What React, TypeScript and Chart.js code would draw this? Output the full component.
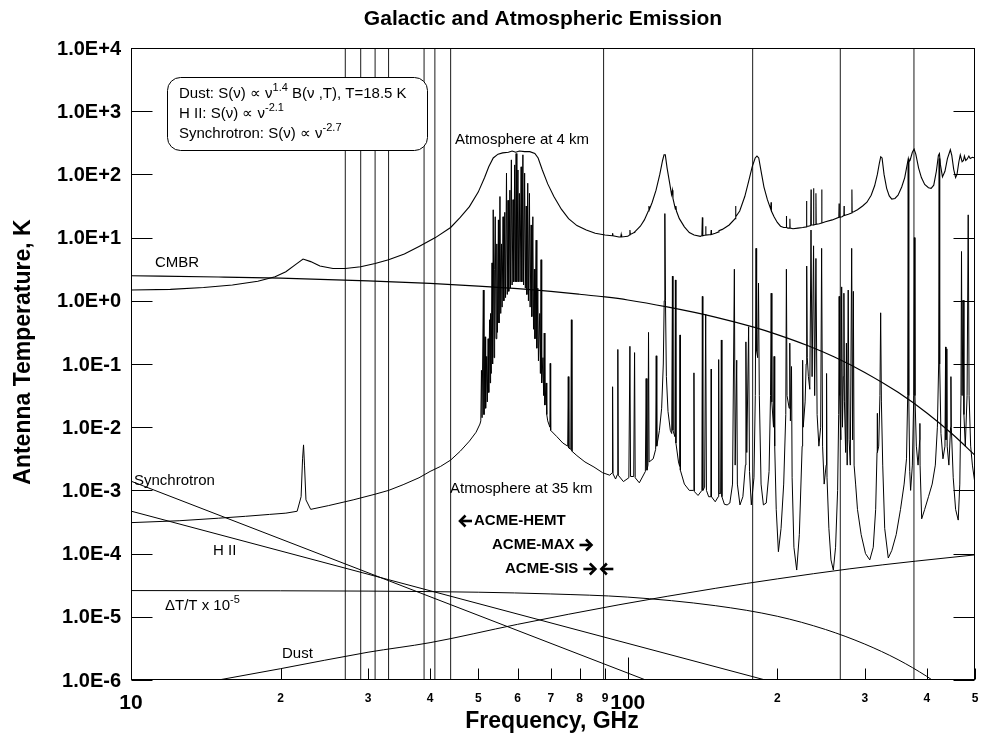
import React, { useEffect, useRef } from 'react';
import { Chart, registerables } from 'chart.js';
Chart.register(...registerables);

// ---------- axis ticks ----------
const X_TICKS = [10, 20, 30, 40, 50, 60, 70, 80, 90, 100, 200, 300, 400, 500];
const X_TICK_LABELS = ['10', '2', '3', '4', '5', '6', '7', '8', '9', '100', '2', '3', '4', '5'];
const Y_TICKS = [1e-6, 1e-5, 1e-4, 1e-3, 1e-2, 1e-1, 1e0, 1e1, 1e2, 1e3, 1e4];
const Y_TICK_LABELS = ['1.0E-6', '1.0E-5', '1.0E-4', '1.0E-3', '1.0E-2', '1.0E-1', '1.0E+0', '1.0E+1', '1.0E+2', '1.0E+3', '1.0E+4'];

// ---------- band marker lines (GHz) ----------
const MARKER_FREQS = [27, 29, 31, 33, 38.9, 40.9, 44, 89.4, 178.4, 267.8, 376.8];

// ---------- smooth foreground curves (GHz, K) ----------
const CMBR_FREQ = [10, 15, 20, 30, 40, 50, 60, 70, 80, 90, 100, 120, 150, 180, 200, 230, 260, 300, 350, 400, 450, 500];
const CMBR_K = [2.49, 2.38, 2.28, 2.07, 1.88, 1.71, 1.56, 1.41, 1.27, 1.15, 1.03, 0.8, 0.553, 0.379, 0.292, 0.196, 0.13, 0.0736, 0.0356, 0.0168, 0.0078, 0.0036];

const DT_FREQ = [10, 20, 30, 50, 70, 100, 150, 200, 250, 300, 350, 400, 450];
const DT_K = [2.6e-5, 2.58e-5, 2.55e-5, 2.45e-5, 2.3e-5, 2.05e-5, 1.5e-5, 1.02e-5, 6.3e-6, 3.7e-6, 2.1e-6, 1.14e-6, 6e-7];

const DUST_FREQ = [15, 20, 30, 40, 60, 96, 150, 200, 280, 380, 500];
const DUST_K = [1e-6, 1.51e-6, 2.75e-6, 3.9e-6, 7.6e-6, 1.55e-5, 2.82e-5, 3.98e-5, 5.75e-5, 7.6e-5, 9.55e-5];

const SYNC_FREQ = [10, 120];
const SYNC_K = [1.4e-3, 7.4e-7];

const HII_FREQ = [10, 200];
const HII_K = [4.7e-4, 8.9e-7];

// ---------- atmosphere spectra: [GHz, log10(K)] ----------
const ATM4_LOGK: [number, number][] = [
  [10, 0.17], [12, 0.18], [14, 0.21], [16, 0.25], [18, 0.31], [19.5, 0.38], [20.5, 0.46], [21.5, 0.58], [22.2, 0.66], [23, 0.62],
  [24, 0.55], [25.5, 0.51], [27, 0.51], [29, 0.54], [31, 0.59], [33, 0.65], [35.5, 0.74], [38, 0.86], [41, 1.0], [44, 1.16],
  [46, 1.32], [48, 1.49], [50, 1.72], [51.5, 1.95], [52.5, 2.12], [53.6, 2.26], [54.8, 2.32], [56, 2.34], [57.5, 2.35], [58.5, 2.37],
  [59.5, 2.35], [60.5, 2.37], [62, 2.36], [63.5, 2.36], [65, 2.33], [66, 2.26], [67.3, 2.07], [69, 1.85], [71, 1.65], [73.5, 1.45],
  [76, 1.3], [79, 1.19], [82.5, 1.12], [86, 1.07], [90, 1.04], [93, 1.03], [93.2, 1.07], [93.4, 1.03], [96, 1.01], [96.8, 1.01],
  [97, 1.05], [97.2, 1.01], [100, 1.02], [100.8, 1.04], [101, 1.12], [101.2, 1.05], [103, 1.08], [103.2, 1.1], [103.4, 1.09], [106, 1.18],
  [108, 1.28], [110, 1.42], [110.3, 1.5], [110.6, 1.45], [112, 1.56], [114, 1.75], [116, 2.0], [117.5, 2.22], [118.3, 2.31], [119, 2.31],
  [120, 2.1], [121.5, 1.85], [122.5, 1.68], [123, 1.75], [123.3, 1.62], [124.7, 1.45], [125, 1.5], [125.3, 1.42], [127, 1.3], [130, 1.17],
  [133, 1.08], [136, 1.04], [140, 1.02], [141, 1.03], [141.3, 1.32], [141.6, 1.03], [143.3, 1.04], [143.5, 1.18], [143.7, 1.04], [147, 1.05],
  [147.2, 1.12], [147.4, 1.05], [150, 1.07], [152.4, 1.09], [152.6, 1.11], [155, 1.13], [160, 1.2], [164.5, 1.3], [164.8, 1.5], [165.1, 1.33],
  [168, 1.42], [172, 1.65], [175, 1.88], [178, 2.12], [180.5, 2.26], [182, 2.29], [183.5, 2.26], [186, 2.0], [188, 1.8], [191, 1.6],
  [194, 1.45], [194.3, 1.56], [194.6, 1.42], [197, 1.33], [200, 1.24], [203, 1.18], [206, 1.16], [208.4, 1.16], [208.6, 1.34], [208.8, 1.16],
  [210, 1.15], [211.9, 1.15], [212, 1.3], [212.2, 1.15], [215, 1.14], [220, 1.15], [225, 1.16], [228.8, 1.17], [229, 1.58], [229.3, 1.18],
  [231, 1.18], [233.5, 1.19], [233.8, 1.76], [234.1, 1.2], [236.4, 1.2], [236.6, 1.78], [236.9, 1.2], [239, 1.21], [239.2, 1.7], [239.5, 1.21],
  [243, 1.22], [245.5, 1.23], [245.7, 1.76], [246, 1.23], [250, 1.25], [258, 1.28], [266, 1.32], [266.3, 1.54], [266.6, 1.32], [270, 1.33],
  [272.3, 1.35], [272.5, 1.5], [272.8, 1.35], [278, 1.37], [282.3, 1.39], [282.6, 1.76], [282.9, 1.4], [285, 1.41], [290, 1.44], [297, 1.5],
  [303, 1.56], [309, 1.67], [314, 1.82], [318, 2.0], [321, 2.18], [323, 2.28], [325, 2.26], [328, 2.0], [332, 1.78], [336, 1.66],
  [340, 1.61], [345, 1.62], [350, 1.67], [356, 1.8], [361, 1.95], [364, 2.1], [366, 2.2], [367, 2.25], [368, 2.2], [370, 2.22],
  [374, 2.35], [377, 2.4], [380, 2.32], [385, 2.1], [390, 1.95], [396, 1.84], [403, 1.79], [408, 1.78], [413, 1.83], [418, 2.05],
  [422, 2.3], [424, 2.33], [426, 2.15], [430, 1.96], [435, 2.05], [440, 2.25], [446, 2.39], [449, 2.3], [453, 2.08], [457, 1.95],
  [460, 2.0], [464, 2.2], [467, 2.31], [471, 2.2], [474, 2.22], [476, 2.29], [479, 2.22], [482, 2.24], [486, 2.29], [489, 2.25],
  [494, 2.27], [500, 2.26],
];

const ATM35_LOGK: [number, number][] = [
  [10, -3.51], [12.5, -3.48], [15, -3.44], [17, -3.41], [19, -3.38], [20.5, -3.36], [21.6, -3.33], [22.0, -3.1], [22.15, -2.5], [22.25, -2.28],
  [22.35, -2.6], [22.5, -3.15], [23, -3.3], [25, -3.24], [28, -3.15], [31, -3.06], [33, -3.0], [35.3, -2.91], [38, -2.8], [40, -2.7],
  [42, -2.62], [44, -2.52], [46, -2.38], [48, -2.22], [49.5, -2.08], [50.4, -1.95],
  [50.6, -1.9], [50.75, -1.1], [50.9, -1.85], [51.2, 0.17], [51.35, -1.8], [51.6, -0.57], [51.75, -1.7], [52.0, -0.88], [52.15, -1.6], [52.35, -0.6],
  [52.5, -1.45], [52.7, -0.3], [52.85, -1.3], [52.95, -0.2], [53.1, -1.15], [53.3, 0.6], [53.45, -1.0], [53.6, 1.44], [53.8, -0.9], [53.95, 0.5],
  [54.1, 1.33], [54.3, -0.6], [54.5, 0.9], [54.65, -0.5], [54.9, 1.28], [55.05, -0.35], [55.3, 1.65], [55.5, -0.2], [55.7, 0.9], [55.85, -0.1],
  [56.1, 1.33], [56.3, 0.0], [56.55, 1.4], [56.75, 0.05], [57.0, 2.02], [57.2, 0.1], [57.4, 1.59], [57.6, 0.15], [57.9, 1.75], [58.05, 0.2],
  [58.3, 2.23], [58.5, 0.25], [58.75, 1.6], [58.95, 0.3], [59.2, 2.15], [59.4, 0.3], [59.6, 2.33], [59.8, 0.3], [60.1, 2.07], [60.3, 0.3],
  [60.5, 1.7], [60.7, 0.3], [61.0, 2.12], [61.2, 0.3], [61.5, 2.31], [61.7, 0.25], [62.0, 2.02], [62.2, 0.2], [62.45, 1.5], [62.65, 0.1],
  [62.9, 1.86], [63.1, 0.0], [63.4, 1.7], [63.6, -0.1], [63.9, 1.2], [64.1, -0.25], [64.4, 1.33], [64.6, -0.45], [64.85, 0.5], [65.05, -0.6],
  [65.4, 0.96], [65.6, -0.75], [65.9, 0.2], [66.1, -0.95], [66.5, -0.2], [66.7, -1.15], [66.9, 0.65], [67.1, -1.3], [67.5, -0.9], [67.7, -1.5],
  [67.9, -0.51], [68.1, -1.65], [68.5, -1.3], [68.7, -1.8], [69.0, -1.9], [69.7, -2.0], [69.8, -0.99],
  [69.95, -2.05], [72, -2.15], [74, -2.25], [75.7, -2.3], [75.9, -1.2], [76.1, -2.33], [76.8, -2.35], [77.0, -0.3], [77.2, -2.38], [79, -2.45],
  [82, -2.55], [85.5, -2.63], [89, -2.72], [92, -2.76], [93.0, -2.72], [93.2, -1.36], [93.4, -2.74], [94.5, -2.82], [95.3, -2.75], [95.5, -0.77],
  [95.7, -2.76], [98, -2.86], [100.5, -2.8], [101.0, -0.72], [101.3, -2.78], [102.8, -2.78], [103.2, -0.82], [103.5, -2.8], [105.5, -2.88], [108.5, -2.7],
  [108.9, -1.23], [109.3, -2.68], [109.8, -2.6], [110.1, -0.5], [110.4, -2.55], [112.5, -2.5], [113.8, -2.35], [114.1, -0.87], [114.4, -2.3], [115.8, -2.05],
  [117, -1.7], [117.9, -1.0], [118.4, 0.0], [118.75, 1.38], [119.1, 0.0], [119.6, -1.2], [120.5, -1.75], [121.8, -2.05], [122.6, -2.1], [123.0, 0.39],
  [123.3, -2.05], [124.4, -2.15], [124.7, 0.33], [125.0, -2.25], [126.5, -2.55], [127.2, -2.62], [127.4, -0.54], [127.6, -2.68], [130, -2.9], [133, -3.0],
  [135.6, -3.0], [135.9, -1.14], [136.2, -3.02], [138.5, -3.08], [141.0, -3.0], [141.3, 0.07], [141.6, -3.0], [142.8, -2.95], [143.5, -0.21], [144, -3.0],
  [145.5, -3.1], [147.0, -3.1], [147.2, -1.08], [147.4, -3.1], [150, -3.18], [152.1, -3.1], [152.4, -0.93], [152.7, -3.05], [153.8, -3.05], [154.3, -0.62],
  [154.7, -3.1], [156.5, -3.22], [158.5, -3.23], [160.5, -3.2], [162.5, -2.9], [163.9, 0.5], [164.5, -2.6], [165.7, -0.94], [166.2, -2.9], [168.2, -3.23],
  [170.5, -3.1], [172.5, -2.6], [172.9, -0.65], [173.6, -2.4], [175.1, -0.41], [175.8, -2.7], [177.3, -3.23], [179.5, -2.8], [180.6, -1.5], [181.2, 0.83],
  [181.7, -0.8], [182.6, -0.9], [183.3, 0.28], [184, -1.5], [185.5, -2.9], [187.5, -3.23], [190, -3.2], [192.5, -2.7], [193.8, -1.5], [194.4, 0.12],
  [195, -1.6], [196.5, -2.0], [197, -0.88], [197.6, -2.3], [199, -3.3], [201, -3.97], [203.5, -3.6], [206, -2.9], [208, -1.8], [208.6, 0.5],
  [209.2, -1.5], [211.3, -1.7], [211.9, -0.67], [212.5, -1.9], [213.6, -1.04], [214.2, -2.8], [216, -3.9], [218.8, -4.26], [221.5, -3.7], [224.4, -2.3],
  [224.9, -0.94], [225.5, -2.0], [227.5, -1.6], [228.6, -1.0], [229.2, 0.55], [229.8, -0.9], [231, -1.2], [232.5, -1.4], [233.8, 1.12], [235, -1.2],
  [236.6, 0.87], [237.8, -1.5], [239.2, 0.67], [240.5, -1.8], [242.5, -2.3], [244.5, -2.0], [245.6, 0.83], [246.7, -2.3], [248.5, -2.9], [250.8, -2.6],
  [251.3, -1.15], [251.8, -2.8], [254, -3.6], [256.5, -4.1], [259.3, -4.26], [262, -3.9], [264.5, -3.0], [265.8, -1.8], [266.4, 0.07], [267, -1.5],
  [268.5, -2.2], [269.5, 0.22], [270.5, -2.0], [271.6, -1.2], [272.3, 0.12], [273, -1.6], [274.5, -2.4], [275.5, -0.67], [276.5, -2.6], [277.8, 0.17],
  [279, -2.2], [280.5, -2.6], [282.3, 0.83], [283.5, -2.2], [284.5, 0.15], [285.5, -2.6], [287.5, -2.9], [290, -3.3], [295, -3.7], [301, -4.0],
  [307, -4.1], [312, -3.9], [315.5, -3.3], [317.5, -2.4], [317.8, -1.78], [318.2, -2.4], [320, -2.3], [321.8, -1.5], [322.9, -0.19], [324, -1.6],
  [326, -2.6], [329, -3.6], [334.5, -4.07], [340, -3.95], [347, -3.7], [354, -3.3], [360, -2.9], [364, -2.5], [366, -1.5], [366.9, 2.2],
  [367.8, -1.5], [369.5, -2.7], [371, -3.0], [374, -2.6], [376.5, -1.5], [377.5, 1.0], [378.5, -1.5], [381, -2.3], [384, -2.6], [387, -2.2],
  [387.3, -1.94], [387.6, -2.6], [390.5, -3.45], [396, -3.3], [403, -3.1], [410, -2.9], [416, -2.6], [420, -2.0], [422.5, -1.0], [423.5, 2.25],
  [424.5, -1.0], [427, -2.1], [431, -2.5], [435, -2.3], [436.3, -0.73], [437, -2.2], [438.5, -2.0], [438.8, -0.76], [439.5, -2.3], [443, -2.6],
  [446.5, -2.0], [447.2, -1.2], [448, -2.0], [452, -2.8], [457, -3.3], [462.6, -3.47], [466, -2.9], [468.5, -1.5], [469.7, 0.78], [471, -1.5],
  [473, 0.01], [475, -1.8], [478, -2.3], [482, -1.5], [484.5, 1.36], [486.5, -1.5], [490, -2.3], [494, -2.6], [500, -2.9],
];

const FONT = '"Liberation Sans", Arial, Helvetica, sans-serif';

type Seg = [string, boolean?];
function drawRich(ctx: CanvasRenderingContext2D, x: number, y: number, segs: Seg[], size: number, bold = false) {
  let cx = x;
  for (const [t, sup] of segs) {
    const s = sup ? Math.round(size * 0.7) : size;
    ctx.font = `${bold ? 'bold ' : ''}${s}px ${FONT}`;
    ctx.fillText(t, cx, sup ? y - size * 0.38 : y);
    cx += ctx.measureText(t).width;
  }
}

// heavy arrow: tail -> tip
function drawArrow(ctx: CanvasRenderingContext2D, xTail: number, xTip: number, y: number) {
  const d = Math.sign(xTip - xTail);
  ctx.save();
  ctx.lineWidth = 2.6;
  ctx.lineCap = 'butt';
  ctx.lineJoin = 'miter';
  ctx.beginPath();
  ctx.moveTo(xTail, y);
  ctx.lineTo(xTip - d * 2, y);
  ctx.stroke();
  ctx.beginPath();
  ctx.moveTo(xTip - d * 5.5, y - 5.5);
  ctx.lineTo(xTip, y);
  ctx.lineTo(xTip - d * 5.5, y + 5.5);
  ctx.stroke();
  ctx.restore();
}

const decorPlugin = {
  id: 'decor',
  afterDatasetsDraw(chart: any) {
    const { ctx, chartArea: a, scales } = chart;
    const xs = scales.x;
    const ys = scales.y;
    ctx.save();
    ctx.strokeStyle = '#000';
    ctx.fillStyle = '#000';
    ctx.lineWidth = 1;
    // frame
    const L = Math.round(a.left) + 0.5, R = Math.round(a.right) - 0.5;
    const T = Math.round(a.top) + 0.5, B = Math.round(a.bottom) - 0.5;
    ctx.strokeRect(L, T, R - L, B - T);
    // y ticks (inward, both sides)
    ctx.beginPath();
    Y_TICKS.forEach((v) => {
      const py = Math.round(ys.getPixelForValue(v)) + 0.5;
      ctx.moveTo(L, py); ctx.lineTo(L + 21, py);
      ctx.moveTo(R, py); ctx.lineTo(R - 21, py);
    });
    // x ticks (inward, bottom)
    X_TICKS.forEach((v) => {
      const px = Math.round(xs.getPixelForValue(v)) + 0.5;
      const len = v === 10 || v === 100 ? 22 : 11;
      ctx.moveTo(px, B); ctx.lineTo(px, B - len);
    });
    ctx.stroke();
    // y tick labels
    ctx.textAlign = 'right';
    ctx.textBaseline = 'middle';
    ctx.font = `bold 20px ${FONT}`;
    Y_TICKS.forEach((v, i) => {
      ctx.fillText(Y_TICK_LABELS[i], a.left - 10, ys.getPixelForValue(v) + 1);
    });
    // x tick labels
    ctx.textAlign = 'center';
    X_TICKS.forEach((v, i) => {
      const big = v === 10 || v === 100;
      ctx.font = `bold ${big ? 21 : 12}px ${FONT}`;
      ctx.fillText(X_TICK_LABELS[i], xs.getPixelForValue(v), a.bottom + (big ? 23 : 19));
    });
    // titles
    ctx.font = `bold 21px ${FONT}`;
    ctx.fillText('Galactic and Atmospheric Emission', 543, 19);
    ctx.font = `bold 23px ${FONT}`;
    ctx.fillText('Frequency, GHz', 552, 722);
    ctx.save();
    ctx.translate(24, 352);
    ctx.rotate(-Math.PI / 2);
    ctx.fillText('Antenna Temperature, K', 0, 0);
    ctx.restore();

    // legend box
    ctx.fillStyle = '#fff';
    ctx.beginPath();
    (ctx as any).roundRect(167.5, 77.5, 260, 73, 13);
    ctx.fill();
    ctx.stroke();
    ctx.fillStyle = '#000';
    ctx.textAlign = 'left';
    ctx.textBaseline = 'middle';
    drawRich(ctx, 179, 94, [['Dust: S(ν) ∝ ν'], ['1.4', true], [' B(ν ,T), T=18.5 K']], 15);
    drawRich(ctx, 179, 114, [['H II: S(ν) ∝ ν'], ['-2.1', true]], 15);
    drawRich(ctx, 179, 134, [['Synchrotron: S(ν) ∝ ν'], ['-2.7', true]], 15);

    // curve labels
    ctx.font = `15px ${FONT}`;
    ctx.textAlign = 'center';
    ctx.fillText('Atmosphere at 4 km', 522, 140);
    ctx.textAlign = 'left';
    ctx.fillText('Atmosphere at 35 km', 450, 489);
    ctx.fillText('CMBR', 155, 263);
    ctx.fillText('Synchrotron', 134, 481);
    ctx.fillText('H II', 213, 551);
    drawRich(ctx, 165, 606, [['ΔT/T x 10'], ['-5', true]], 15);
    ctx.font = `15px ${FONT}`;
    ctx.fillText('Dust', 282, 654);

    // ACME band labels with heavy arrows
    ctx.font = `bold 15px ${FONT}`;
    drawArrow(ctx, 472, 460, 521);
    ctx.fillText('ACME-HEMT', 474, 521);
    ctx.fillText('ACME-MAX', 492, 545);
    const wMax = ctx.measureText('ACME-MAX').width;
    drawArrow(ctx, 492 + wMax + 5, 492 + wMax + 17, 545);
    ctx.fillText('ACME-SIS', 505, 569);
    const wSis = ctx.measureText('ACME-SIS').width;
    const s0 = 505 + wSis + 5;
    drawArrow(ctx, s0, s0 + 12, 569);
    drawArrow(ctx, s0 + 30, s0 + 18, 569);
    ctx.restore();
  },
};

function pairs(f: number[], k: number[]) {
  return f.map((x, i) => ({ x, y: k[i] }));
}
function fromLog(arr: [number, number][]) {
  return arr.map(([x, lg]) => ({ x, y: Math.pow(10, lg) }));
}

export default function App() {
  const ref = useRef<HTMLCanvasElement>(null);
  useEffect(() => {
    if (!ref.current) return;
    const line = (data: any[], extra: any = {}) => ({
      data,
      borderColor: '#000',
      borderWidth: 1,
      pointRadius: 0,
      tension: 0,
      fill: false,
      ...extra,
    });
    const datasets: any[] = [
      line(fromLog(ATM4_LOGK), { borderWidth: 1.1 }),
      line(fromLog(ATM35_LOGK), { borderWidth: 1 }),
      line(pairs(CMBR_FREQ, CMBR_K), { cubicInterpolationMode: 'monotone', borderWidth: 1.2 }),
      line(pairs(DT_FREQ, DT_K), { cubicInterpolationMode: 'monotone' }),
      line(pairs(DUST_FREQ, DUST_K), { cubicInterpolationMode: 'monotone' }),
      line(pairs(SYNC_FREQ, SYNC_K)),
      line(pairs(HII_FREQ, HII_K)),
      ...MARKER_FREQS.map((f) => line([{ x: f, y: 1e-6 }, { x: f, y: 1e4 }], { borderWidth: 0.9 })),
    ];
    const chart = new Chart(ref.current, {
      type: 'line',
      data: { datasets },
      options: {
        animation: false,
        responsive: false,
        devicePixelRatio: 1,
        layout: { padding: { top: 48, right: 7, left: 0, bottom: 0 } },
        plugins: { legend: { display: false }, tooltip: { enabled: false }, title: { display: false } },
        scales: {
          x: {
            type: 'logarithmic',
            min: 10,
            max: 500,
            grid: { display: false },
            border: { display: false },
            ticks: { display: false },
            afterFit: (s: any) => { s.height = 61; },
          },
          y: {
            type: 'logarithmic',
            min: 1e-6,
            max: 1e4,
            grid: { display: false },
            border: { display: false },
            ticks: { display: false },
            afterFit: (s: any) => { s.width = 131; },
          },
        },
      } as any,
      plugins: [decorPlugin],
    });
    return () => chart.destroy();
  }, []);
  return (
    <div style={{ position: 'fixed', left: 0, top: 0, width: 982, height: 741, background: '#fff' }}>
      <canvas ref={ref} width={982} height={741} style={{ display: 'block' }} />
    </div>
  );
}
